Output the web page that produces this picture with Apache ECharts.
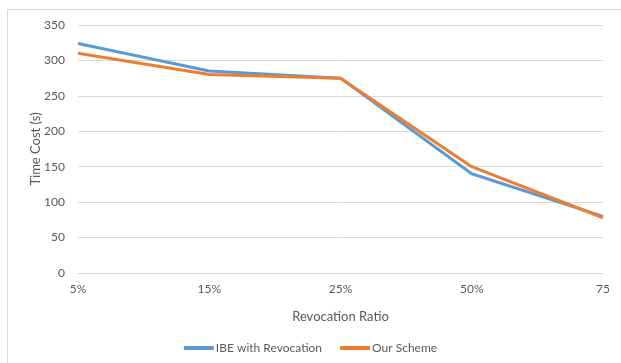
<!DOCTYPE html>
<html>
<head>
<meta charset="utf-8">
<script src="https://cdn.jsdelivr.net/npm/echarts@6/dist/echarts.min.js"></script>
<style>
  html, body { margin: 0; padding: 0; background: #fff; }
  #chart { width: 621px; height: 363px; }
</style>
</head>
<body>
<div id="chart"></div>
<script>
// Revocation ratio categories on the x axis
const categories = ['5%', '15%', '25%', '50%', '75'];
// Time cost in seconds for each scheme
const ibeWithRevocation = [324, 285, 275, 140, 80];
const ourScheme = [310, 280, 275, 150, 78];
// Y axis range
const yMin = 0, yMax = 350, yStep = 50;

const textColor = '#595959';
const fontFamily = 'Lato, "Open Sans", "Liberation Sans", sans-serif';

const chart = echarts.init(document.getElementById('chart'), null, { renderer: 'canvas' });
chart.setOption({
  animation: false,
  backgroundColor: '#fff',
  graphic: [{
    type: 'rect',
    shape: { x: 7.5, y: 9.5, width: 640, height: 380 },
    style: { fill: 'none', stroke: '#D9D9D9', lineWidth: 1 },
    silent: true
  }],
  grid: { left: 78, right: 18, top: 25, bottom: 90, containLabel: false },
  legend: {
    bottom: 4,
    left: 'center',
    itemWidth: 30,
    itemHeight: 4,
    itemGap: 18,
    icon: 'rect',
    textStyle: { color: textColor, fontSize: 12, fontFamily: fontFamily, padding: [0, 0, 0, -3] },
    data: ['IBE with Revocation', 'Our Scheme']
  },
  xAxis: {
    type: 'category',
    data: categories,
    boundaryGap: false,
    name: 'Revocation Ratio',
    nameLocation: 'middle',
    nameGap: 37,
    nameTextStyle: { color: textColor, fontSize: 13, fontFamily: fontFamily },
    axisLine: { show: true, lineStyle: { color: '#D9D9D9' } },
    axisTick: { show: false },
    axisLabel: { color: textColor, fontSize: 12, fontFamily: fontFamily, margin: 10 }
  },
  yAxis: {
    type: 'value',
    min: yMin,
    max: yMax,
    interval: yStep,
    name: 'Time Cost (s)',
    nameLocation: 'middle',
    nameGap: 36,
    nameMoveOverlap: false,
    nameRotate: 90,
    nameTextStyle: { color: textColor, fontSize: 13, fontFamily: fontFamily },
    axisLine: { show: false },
    axisTick: { show: false },
    axisLabel: { color: textColor, fontSize: 12, fontFamily: fontFamily, margin: 13 },
    splitLine: { lineStyle: { color: '#D9D9D9', width: 1 } }
  },
  series: [
    {
      name: 'IBE with Revocation',
      type: 'line',
      data: ibeWithRevocation,
      symbol: 'none',
      lineStyle: { color: '#5B9BD5', width: 3, join: 'round' },
      itemStyle: { color: '#5B9BD5' }
    },
    {
      name: 'Our Scheme',
      type: 'line',
      data: ourScheme,
      symbol: 'none',
      lineStyle: { color: '#ED7D31', width: 3, join: 'round' },
      itemStyle: { color: '#ED7D31' }
    }
  ]
});
</script>
</body>
</html>
